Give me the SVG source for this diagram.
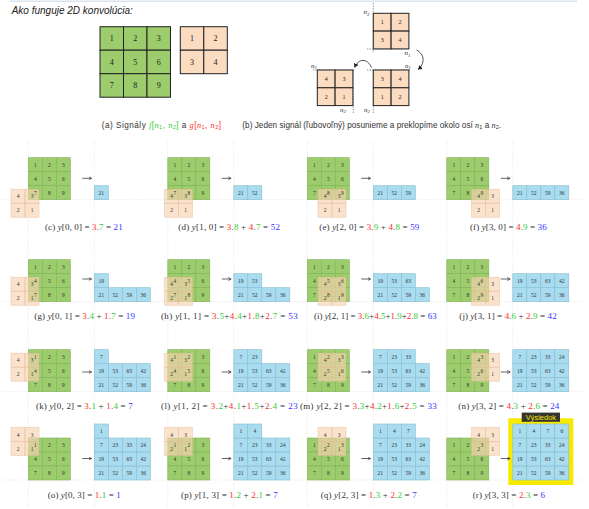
<svg xmlns="http://www.w3.org/2000/svg" xmlns:xlink="http://www.w3.org/1999/xlink" width="589" height="509" viewBox="0 0 589 509">
<style>
.gc{fill:#9ccc6c;stroke:#7fb257;stroke-width:0.6}
.kc{fill:#f9d3b2;fill-opacity:0.65;stroke:#e3b893;stroke-opacity:0.7;stroke-width:0.6}
.bc{fill:#a9dcef;stroke:#86bdd2;stroke-width:0.6}
.num{font-family:"Liberation Serif",serif;font-size:5.5px;fill:#333;text-anchor:middle}
.bn{font-family:"Liberation Serif",serif;font-size:8px;fill:#222;text-anchor:middle}
.mn{font-family:"Liberation Serif",serif;font-size:6px;fill:#222;text-anchor:middle}
.Gc{fill:#9ccc6c;stroke:#222;stroke-width:1}
.Oc{fill:#fcdcc0;stroke:#222;stroke-width:1}
.dot{stroke:#cfcfcf;stroke-width:0.6;stroke-dasharray:0.7 1.5;fill:none}
.dash{stroke:#444;stroke-width:0.6;stroke-dasharray:1.4 1.2;fill:none}
.cap{font-family:"Liberation Serif",serif;font-size:9px;fill:#333}
.scap{font-family:"Liberation Sans",sans-serif;font-size:8.2px;fill:#333}
.it{font-style:italic;font-family:"Liberation Serif",serif}
.lab{font-family:"Liberation Serif",serif;font-size:7px;font-style:italic;fill:#222}
.r{fill:#ff2b2b}.g{fill:#33cc33}.b{fill:#3535ff}
.arr{stroke:#222;stroke-width:0.7;fill:none;marker-end:url(#ah)}
.carr{stroke:#222;stroke-width:0.8;fill:none;marker-end:url(#ah2)}
</style>
<defs>
<marker id="ah" markerWidth="4" markerHeight="4" refX="3" refY="2" orient="auto" markerUnits="userSpaceOnUse"><path d="M0,0.4 L3,2 L0,3.6" fill="none" stroke="#222" stroke-width="0.6"/></marker>
<marker id="ah2" markerWidth="6" markerHeight="6" refX="4" refY="3" orient="auto" markerUnits="userSpaceOnUse"><path d="M0,0.5 L4,3 L0,5.5 Z" fill="#222"/></marker>
<g id="Gr"><rect class="gc" x="0" y="-42" width="14" height="14"/><rect class="gc" x="14" y="-42" width="14" height="14"/><rect class="gc" x="28" y="-42" width="14" height="14"/><rect class="gc" x="0" y="-28" width="14" height="14"/><rect class="gc" x="14" y="-28" width="14" height="14"/><rect class="gc" x="28" y="-28" width="14" height="14"/><rect class="gc" x="0" y="-14" width="14" height="14"/><rect class="gc" x="14" y="-14" width="14" height="14"/><rect class="gc" x="28" y="-14" width="14" height="14"/></g>
<g id="Gt" class="num"><text x="7" y="-33">1</text><text x="21" y="-33">2</text><text x="35" y="-33">3</text><text x="7" y="-19">4</text><text x="21" y="-19">5</text><text x="35" y="-19">6</text><text x="7" y="-5">7</text><text x="21" y="-5">8</text><text x="35" y="-5">9</text></g>
<g id="Kr"><rect class="kc" x="0" y="-28" width="14" height="14"/><rect class="kc" x="14" y="-28" width="14" height="14"/><rect class="kc" x="0" y="-14" width="14" height="14"/><rect class="kc" x="14" y="-14" width="14" height="14"/></g>
<g id="Kt" class="num"><text x="7" y="-19">4</text><text x="21" y="-19">3</text><text x="7" y="-5">2</text><text x="21" y="-5">1</text></g>
<g id="B0" class="num"><rect class="bc" x="0" y="-14" width="14" height="14"/><text x="7" y="-5">21</text></g>
<g id="B1" class="num"><use xlink:href="#B0"/><rect class="bc" x="14" y="-14" width="14" height="14"/><text x="21" y="-5">52</text></g>
<g id="B2" class="num"><use xlink:href="#B1"/><rect class="bc" x="28" y="-14" width="14" height="14"/><text x="35" y="-5">59</text></g>
<g id="B3" class="num"><use xlink:href="#B2"/><rect class="bc" x="42" y="-14" width="14" height="14"/><text x="49" y="-5">36</text></g>
<g id="B4" class="num"><use xlink:href="#B3"/><rect class="bc" x="0" y="-28" width="14" height="14"/><text x="7" y="-19">19</text></g>
<g id="B5" class="num"><use xlink:href="#B4"/><rect class="bc" x="14" y="-28" width="14" height="14"/><text x="21" y="-19">53</text></g>
<g id="B6" class="num"><use xlink:href="#B5"/><rect class="bc" x="28" y="-28" width="14" height="14"/><text x="35" y="-19">63</text></g>
<g id="B7" class="num"><use xlink:href="#B6"/><rect class="bc" x="42" y="-28" width="14" height="14"/><text x="49" y="-19">42</text></g>
<g id="B8" class="num"><use xlink:href="#B7"/><rect class="bc" x="0" y="-42" width="14" height="14"/><text x="7" y="-33">7</text></g>
<g id="B9" class="num"><use xlink:href="#B8"/><rect class="bc" x="14" y="-42" width="14" height="14"/><text x="21" y="-33">23</text></g>
<g id="B10" class="num"><use xlink:href="#B9"/><rect class="bc" x="28" y="-42" width="14" height="14"/><text x="35" y="-33">33</text></g>
<g id="B11" class="num"><use xlink:href="#B10"/><rect class="bc" x="42" y="-42" width="14" height="14"/><text x="49" y="-33">24</text></g>
<g id="B12" class="num"><use xlink:href="#B11"/><rect class="bc" x="0" y="-56" width="14" height="14"/><text x="7" y="-47">1</text></g>
<g id="B13" class="num"><use xlink:href="#B12"/><rect class="bc" x="14" y="-56" width="14" height="14"/><text x="21" y="-47">4</text></g>
<g id="B14" class="num"><use xlink:href="#B13"/><rect class="bc" x="28" y="-56" width="14" height="14"/><text x="35" y="-47">7</text></g>
<g id="B15" class="num"><use xlink:href="#B14"/><rect class="bc" x="42" y="-56" width="14" height="14"/><text x="49" y="-47">6</text></g>
</defs>
<rect width="589" height="509" fill="#fff"/>
<line x1="10" y1="1.2" x2="577" y2="1.2" stroke="#dbe3ec" stroke-width="1.5"/>
<text x="11.7" y="14" font-family="Liberation Sans,sans-serif" font-style="italic" font-size="10" fill="#222">Ako funguje 2D konvolúcia:</text>

<g id="axes">
<path class="dot" d="M28.3 141V507M94.3 141V507M167.8 141V507M233.8 141V507M307.3 141V507M373.3 141V507M446.8 141V507M512.8 141V507"/>
<path class="dot" d="M2 199.7H582M2 301.7H582M2 391.7H582M2 480H582"/>
</g>

<g id="signal-f">
<rect class="Gc" x="100" y="26.7" width="23.5" height="23.5"/><rect class="Gc" x="123.5" y="26.7" width="23.5" height="23.5"/><rect class="Gc" x="147" y="26.7" width="23.5" height="23.5"/>
<rect class="Gc" x="100" y="50.2" width="23.5" height="23.5"/><rect class="Gc" x="123.5" y="50.2" width="23.5" height="23.5"/><rect class="Gc" x="147" y="50.2" width="23.5" height="23.5"/>
<rect class="Gc" x="100" y="73.7" width="23.5" height="23.5"/><rect class="Gc" x="123.5" y="73.7" width="23.5" height="23.5"/><rect class="Gc" x="147" y="73.7" width="23.5" height="23.5"/>
<g class="bn"><text x="111.75" y="41.3">1</text><text x="135.25" y="41.3">2</text><text x="158.75" y="41.3">3</text><text x="111.75" y="64.8">4</text><text x="135.25" y="64.8">5</text><text x="158.75" y="64.8">6</text><text x="111.75" y="88.3">7</text><text x="135.25" y="88.3">8</text><text x="158.75" y="88.3">9</text></g>
</g>
<g id="signal-g">
<rect class="Oc" x="180.3" y="26.7" width="23.5" height="23.5"/><rect class="Oc" x="203.8" y="26.7" width="23.5" height="23.5"/>
<rect class="Oc" x="180.3" y="50.2" width="23.5" height="23.5"/><rect class="Oc" x="203.8" y="50.2" width="23.5" height="23.5"/>
<g class="bn"><text x="192.05" y="41.3">1</text><text x="215.55" y="41.3">2</text><text x="192.05" y="64.8">3</text><text x="215.55" y="64.8">4</text></g>
</g>
<text id="cap-a" class="scap" x="101.7" y="127.7" textLength="119.3" lengthAdjust="spacing">(a) Signály <tspan class="g"><tspan class="it">f</tspan>[<tspan class="it">n</tspan><tspan font-size="5.5" dy="1.5">1</tspan><tspan dy="-1.5">, </tspan><tspan class="it">n</tspan><tspan font-size="5.5" dy="1.5">2</tspan><tspan dy="-1.5">]</tspan></tspan> a <tspan class="r"><tspan class="it">g</tspan>[<tspan class="it">n</tspan><tspan font-size="5.5" dy="1.5">1</tspan><tspan dy="-1.5">, </tspan><tspan class="it">n</tspan><tspan font-size="5.5" dy="1.5">2</tspan><tspan dy="-1.5">]</tspan></tspan></text>

<g id="flip-top">
<path class="dash" d="M373.3 3V53M367 49H409"/>
<rect class="Oc" x="373.3" y="13.3" width="17.8" height="17.8"/><rect class="Oc" x="391.1" y="13.3" width="17.8" height="17.8"/><rect class="Oc" x="373.3" y="31.1" width="17.8" height="17.8"/><rect class="Oc" x="391.1" y="31.1" width="17.8" height="17.8"/>
<g class="mn"><text x="382.2" y="24.2">1</text><text x="400" y="24.2">2</text><text x="382.2" y="42">3</text><text x="400" y="42">4</text></g>
<text class="lab" x="363.5" y="14">n<tspan font-size="5" dy="1.5">2</tspan></text>
<text class="lab" x="404.5" y="55">n<tspan font-size="5" dy="1.5">1</tspan></text>
</g>
<g id="flip-right">
<path class="dash" d="M367 70H411M373.3 70V113"/>
<rect class="Oc" x="373.3" y="70" width="17.8" height="17.8"/><rect class="Oc" x="391.1" y="70" width="17.8" height="17.8"/><rect class="Oc" x="373.3" y="87.8" width="17.8" height="17.8"/><rect class="Oc" x="391.1" y="87.8" width="17.8" height="17.8"/>
<g class="mn"><text x="382.2" y="80.9">3</text><text x="400" y="80.9">4</text><text x="382.2" y="98.7">1</text><text x="400" y="98.7">2</text></g>
<text class="lab" x="405" y="67.5">n<tspan font-size="5" dy="1.5">1</tspan></text>
<text class="lab" x="364" y="111.5">n<tspan font-size="5" dy="1.5">2</tspan></text>
</g>
<g id="flip-left">
<path class="dash" d="M313 70H355M353.3 70V113"/>
<rect class="Oc" x="317.3" y="70" width="17.8" height="17.8"/><rect class="Oc" x="335.1" y="70" width="17.8" height="17.8"/><rect class="Oc" x="317.3" y="87.8" width="17.8" height="17.8"/><rect class="Oc" x="335.1" y="87.8" width="17.8" height="17.8"/>
<g class="mn"><text x="326.2" y="80.9">4</text><text x="344" y="80.9">3</text><text x="326.2" y="98.7">2</text><text x="344" y="98.7">1</text></g>
<text class="lab" x="311" y="67.5">n<tspan font-size="5" dy="1.5">1</tspan></text>
<text class="lab" x="340" y="111.5">n<tspan font-size="5" dy="1.5">2</tspan></text>
</g>
<text id="cap-b" class="scap" x="242.3" y="127.7" textLength="258.7" lengthAdjust="spacing">(b) Jeden signál (ľubovoľný) posunieme a preklopíme okolo osí <tspan class="it">n</tspan><tspan font-size="5.5" dy="1.5">1</tspan><tspan dy="-1.5"> a </tspan><tspan class="it">n</tspan><tspan font-size="5.5" dy="1.5">2</tspan><tspan dy="-1.5">.</tspan></text>

<g id="result-frame">
<rect x="508.3" y="418.3" width="65" height="66.7" fill="#f7ea00"/>
</g>

<g id="panel-c"><use xlink:href="#Gr" x="28.3" y="199.7"/><use xlink:href="#Kr" x="11" y="217.2"/><use xlink:href="#Gt" x="28.3" y="199.7"/><use xlink:href="#Kt" x="11" y="217.2"/><use xlink:href="#B0" x="94.3" y="199.7"/>
<text class="cap" x="45" y="230" textLength="77.7" lengthAdjust="spacing">(c) <tspan class="it">y</tspan>[0, 0] = <tspan class="r">3</tspan>.<tspan class="g">7</tspan> = <tspan class="b">21</tspan></text></g>
<g id="panel-d"><use xlink:href="#Gr" x="167.8" y="199.7"/><use xlink:href="#Kr" x="164.5" y="217.2"/><use xlink:href="#Gt" x="167.8" y="199.7"/><use xlink:href="#Kt" x="164.5" y="217.2"/><use xlink:href="#B1" x="233.8" y="199.7"/>
<text class="cap" x="178.3" y="230" textLength="101.7" lengthAdjust="spacing">(d) <tspan class="it">y</tspan>[1, 0] = <tspan class="r">3</tspan>.<tspan class="g">8</tspan> + <tspan class="r">4</tspan>.<tspan class="g">7</tspan> = <tspan class="b">52</tspan></text></g>
<g id="panel-e"><use xlink:href="#Gr" x="307.3" y="199.7"/><use xlink:href="#Kr" x="318" y="217.2"/><use xlink:href="#Gt" x="307.3" y="199.7"/><use xlink:href="#Kt" x="318" y="217.2"/><use xlink:href="#B2" x="373.3" y="199.7"/>
<text class="cap" x="319.3" y="230" textLength="100" lengthAdjust="spacing">(e) <tspan class="it">y</tspan>[2, 0] = <tspan class="r">3</tspan>.<tspan class="g">9</tspan> + <tspan class="r">4</tspan>.<tspan class="g">8</tspan> = <tspan class="b">59</tspan></text></g>
<g id="panel-f"><use xlink:href="#Gr" x="446.8" y="199.7"/><use xlink:href="#Kr" x="471.5" y="217.2"/><use xlink:href="#Gt" x="446.8" y="199.7"/><use xlink:href="#Kt" x="471.5" y="217.2"/><use xlink:href="#B3" x="512.8" y="199.7"/>
<text class="cap" x="470" y="230" textLength="76.7" lengthAdjust="spacing">(f) <tspan class="it">y</tspan>[3, 0] = <tspan class="r">4</tspan>.<tspan class="g">9</tspan> = <tspan class="b">36</tspan></text></g>

<g id="panel-g"><use xlink:href="#Gr" x="28.3" y="301.7"/><use xlink:href="#Kr" x="11" y="305.2"/><use xlink:href="#Gt" x="28.3" y="301.7"/><use xlink:href="#Kt" x="11" y="305.2"/><use xlink:href="#B4" x="94.3" y="301.7"/>
<text class="cap" x="34.3" y="318.5" textLength="100.7" lengthAdjust="spacing">(g) <tspan class="it">y</tspan>[0, 1] = <tspan class="r">3</tspan>.<tspan class="g">4</tspan> + <tspan class="r">1</tspan>.<tspan class="g">7</tspan> = <tspan class="b">19</tspan></text></g>
<g id="panel-h"><use xlink:href="#Gr" x="167.8" y="301.7"/><use xlink:href="#Kr" x="164.5" y="305.2"/><use xlink:href="#Gt" x="167.8" y="301.7"/><use xlink:href="#Kt" x="164.5" y="305.2"/><use xlink:href="#B5" x="233.8" y="301.7"/>
<text class="cap" x="161" y="318.5" textLength="136.7" lengthAdjust="spacing">(h) <tspan class="it">y</tspan>[1, 1] = <tspan class="r">3</tspan>.<tspan class="g">5</tspan>+<tspan class="r">4</tspan>.<tspan class="g">4</tspan>+<tspan class="r">1</tspan>.<tspan class="g">8</tspan>+<tspan class="r">2</tspan>.<tspan class="g">7</tspan> = <tspan class="b">53</tspan></text></g>
<g id="panel-i"><use xlink:href="#Gr" x="307.3" y="301.7"/><use xlink:href="#Kr" x="318" y="305.2"/><use xlink:href="#Gt" x="307.3" y="301.7"/><use xlink:href="#Kt" x="318" y="305.2"/><use xlink:href="#B6" x="373.3" y="301.7"/>
<text class="cap" x="314" y="318.5" textLength="122.7" lengthAdjust="spacing">(i) <tspan class="it">y</tspan>[2, 1] = <tspan class="r">3</tspan>.<tspan class="g">6</tspan>+<tspan class="r">4</tspan>.<tspan class="g">5</tspan>+<tspan class="r">1</tspan>.<tspan class="g">9</tspan>+<tspan class="r">2</tspan>.<tspan class="g">8</tspan> = <tspan class="b">63</tspan></text></g>
<g id="panel-j"><use xlink:href="#Gr" x="446.8" y="301.7"/><use xlink:href="#Kr" x="471.5" y="305.2"/><use xlink:href="#Gt" x="446.8" y="301.7"/><use xlink:href="#Kt" x="471.5" y="305.2"/><use xlink:href="#B7" x="512.8" y="301.7"/>
<text class="cap" x="459.3" y="318.5" textLength="97.4" lengthAdjust="spacing">(j) <tspan class="it">y</tspan>[3, 1] = <tspan class="r">4</tspan>.<tspan class="g">6</tspan> + <tspan class="r">2</tspan>.<tspan class="g">9</tspan> = <tspan class="b">42</tspan></text></g>

<g id="panel-k"><use xlink:href="#Gr" x="28.3" y="391.7"/><use xlink:href="#Kr" x="11" y="381.2"/><use xlink:href="#Gt" x="28.3" y="391.7"/><use xlink:href="#Kt" x="11" y="381.2"/><use xlink:href="#B8" x="94.3" y="391.7"/>
<text class="cap" x="36" y="408.5" textLength="96.7" lengthAdjust="spacing">(k) <tspan class="it">y</tspan>[0, 2] = <tspan class="r">3</tspan>.<tspan class="g">1</tspan> + <tspan class="r">1</tspan>.<tspan class="g">4</tspan> = <tspan class="b">7</tspan></text></g>
<g id="panel-l"><use xlink:href="#Gr" x="167.8" y="391.7"/><use xlink:href="#Kr" x="164.5" y="381.2"/><use xlink:href="#Gt" x="167.8" y="391.7"/><use xlink:href="#Kt" x="164.5" y="381.2"/><use xlink:href="#B9" x="233.8" y="391.7"/>
<text class="cap" x="161" y="408.5" textLength="136.7" lengthAdjust="spacing">(l) <tspan class="it">y</tspan>[1, 2] = <tspan class="r">3</tspan>.<tspan class="g">2</tspan>+<tspan class="r">4</tspan>.<tspan class="g">1</tspan>+<tspan class="r">1</tspan>.<tspan class="g">5</tspan>+<tspan class="r">2</tspan>.<tspan class="g">4</tspan> = <tspan class="b">23</tspan></text></g>
<g id="panel-m"><use xlink:href="#Gr" x="307.3" y="391.7"/><use xlink:href="#Kr" x="318" y="381.2"/><use xlink:href="#Gt" x="307.3" y="391.7"/><use xlink:href="#Kt" x="318" y="381.2"/><use xlink:href="#B10" x="373.3" y="391.7"/>
<text class="cap" x="300" y="408.5" textLength="136.7" lengthAdjust="spacing">(m) <tspan class="it">y</tspan>[2, 2] = <tspan class="r">3</tspan>.<tspan class="g">3</tspan>+<tspan class="r">4</tspan>.<tspan class="g">2</tspan>+<tspan class="r">1</tspan>.<tspan class="g">6</tspan>+<tspan class="r">2</tspan>.<tspan class="g">5</tspan> = <tspan class="b">33</tspan></text></g>
<g id="panel-n"><use xlink:href="#Gr" x="446.8" y="391.7"/><use xlink:href="#Kr" x="471.5" y="381.2"/><use xlink:href="#Gt" x="446.8" y="391.7"/><use xlink:href="#Kt" x="471.5" y="381.2"/><use xlink:href="#B11" x="512.8" y="391.7"/>
<text class="cap" x="458.3" y="408.5" textLength="101" lengthAdjust="spacing">(n) <tspan class="it">y</tspan>[3, 2] = <tspan class="r">4</tspan>.<tspan class="g">3</tspan> + <tspan class="r">2</tspan>.<tspan class="g">6</tspan> = <tspan class="b">24</tspan></text></g>

<g id="panel-o"><use xlink:href="#Gr" x="28.3" y="480"/><use xlink:href="#Kr" x="11" y="455.5"/><use xlink:href="#Gt" x="28.3" y="480"/><use xlink:href="#Kt" x="11" y="455.5"/><use xlink:href="#B12" x="94.3" y="480"/>
<text class="cap" x="47.7" y="497.5" textLength="73" lengthAdjust="spacing">(o) <tspan class="it">y</tspan>[0, 3] = <tspan class="r">1</tspan>.<tspan class="g">1</tspan> = <tspan class="b">1</tspan></text></g>
<g id="panel-p"><use xlink:href="#Gr" x="167.8" y="480"/><use xlink:href="#Kr" x="164.5" y="455.5"/><use xlink:href="#Gt" x="167.8" y="480"/><use xlink:href="#Kt" x="164.5" y="455.5"/><use xlink:href="#B13" x="233.8" y="480"/>
<text class="cap" x="181" y="497.5" textLength="96.7" lengthAdjust="spacing">(p) <tspan class="it">y</tspan>[1, 3] = <tspan class="r">1</tspan>.<tspan class="g">2</tspan> + <tspan class="r">2</tspan>.<tspan class="g">1</tspan> = <tspan class="b">7</tspan></text></g>
<g id="panel-q"><use xlink:href="#Gr" x="307.3" y="480"/><use xlink:href="#Kr" x="318" y="455.5"/><use xlink:href="#Gt" x="307.3" y="480"/><use xlink:href="#Kt" x="318" y="455.5"/><use xlink:href="#B14" x="373.3" y="480"/>
<text class="cap" x="320.7" y="497.5" textLength="96" lengthAdjust="spacing">(q) <tspan class="it">y</tspan>[2, 3] = <tspan class="r">1</tspan>.<tspan class="g">3</tspan> + <tspan class="r">2</tspan>.<tspan class="g">2</tspan> = <tspan class="b">7</tspan></text></g>
<g id="panel-r"><use xlink:href="#Gr" x="446.8" y="480"/><use xlink:href="#Kr" x="471.5" y="455.5"/><use xlink:href="#Gt" x="446.8" y="480"/><use xlink:href="#Kt" x="471.5" y="455.5"/><use xlink:href="#B15" x="512.8" y="480"/>
<text class="cap" x="472.7" y="497.5" textLength="72.3" lengthAdjust="spacing">(r) <tspan class="it">y</tspan>[3, 3] = <tspan class="r">2</tspan>.<tspan class="g">3</tspan> = <tspan class="b">6</tspan></text></g>

<g id="result-label">
<rect x="521.7" y="412.6" width="38.3" height="9.2" fill="#353530"/>
<text x="540.85" y="420" font-family="Liberation Sans,sans-serif" font-size="7.5" fill="#f5e600" text-anchor="middle">Výsledok</text>
</g>

<g id="connectors">
<path class="carr" d="M416.5 50C425 54 425 64 418 69.5"/>
<path class="carr" d="M371.5 67.5C367 58 359 58 354.5 67.5"/>
<path class="arr" d="M82.3 178.3h9.3"/><path class="arr" d="M221.8 178.3h9.3"/><path class="arr" d="M361.3 178.3h9.3"/><path class="arr" d="M500.8 178.3h9.3"/>
<path class="arr" d="M82.3 279h9.3"/><path class="arr" d="M221.8 279h9.3"/><path class="arr" d="M361.3 279h9.3"/><path class="arr" d="M500.8 279h9.3"/>
<path class="arr" d="M82.3 372h9.3"/><path class="arr" d="M221.8 372h9.3"/><path class="arr" d="M361.3 372h9.3"/><path class="arr" d="M500.8 372h9.3"/>
<path class="arr" d="M82.3 458.5h9.3"/><path class="arr" d="M221.8 458.5h9.3"/><path class="arr" d="M361.3 458.5h9.3"/><path class="arr" d="M500.8 458.5h9.3"/>
</g>
</svg>
